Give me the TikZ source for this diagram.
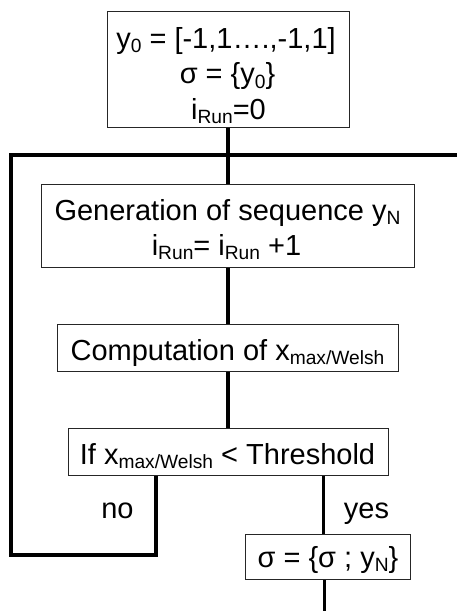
\documentclass[tikz,border=0pt]{standalone}
\usepackage{fontspec}
\setmainfont{Liberation Sans}
% lowered, smaller text for indices
\newcommand\lowsub[1]{\raisebox{-4.5pt}{\fontsize{19.2}{19.2}\selectfont #1}}
\begin{document}
\begin{tikzpicture}[x=1pt,y=-1pt,
  box/.style={draw=black!85,line width=1pt,fill=white,inner sep=0pt},
  txt/.style={anchor=base,inner sep=0pt,font=\fontsize{29}{35}\selectfont},
  flow/.style={line width=3.5pt,line join=miter,line cap=butt}]
\useasboundingbox (0,0) rectangle (457,611);

% loop and flow corner points
\coordinate (nob)  at (156,555);
\coordinate (lbot) at (11,555);
\coordinate (ltop) at (11,155);
\coordinate (rend) at (457,155);
\coordinate (yesx) at (323.5,0);
\coordinate (outx) at (324.5,0);
\coordinate (exit) at (324.5,611);
\coordinate (nox)  at (156,0);

% connectors first, boxes drawn on top
\draw[flow] (228,127) -- (228,185);
\draw[flow] (228,267) -- (228,325);
\draw[flow] (228,372) -- (228,428);
\draw[flow] (156,475) -- (nob) -- (lbot) -- (ltop) -- (rend);
\draw[flow] (323.5,475) -- (323.5,534);
\draw[flow] (324.5,579) -- (exit);

% boxes
\node[box,minimum width=242pt,minimum height=116pt] (b1) at (228,69) {};
\node[box,minimum width=373.4pt,minimum height=82.3pt] (b2) at (228,226) {};
\node[box,minimum width=340.7pt,minimum height=46.7pt] (b3) at (227.7,348.3) {};
\node[box,minimum width=319.7pt,minimum height=47pt] (b4) at (228.2,451.5) {};
\node[box,minimum width=165pt,minimum height=45pt] (b5) at (327.5,556.5) {};

% box texts
\node[txt] (t1a) at (226,48) {y\lowsub{0} = [-1,1….,-1,1]};
\node[txt] (t1b) at (227.5,83.5) {σ = \{y\lowsub{0}\}};
\node[txt] (t1c) at (228.5,119) {i\lowsub{Run}=0};
\node[txt] (t2a) at (227.5,220) {Generation of sequence y\lowsub{N}};
\node[txt] (t2b) at (226.5,255) {i\lowsub{Run}= i\lowsub{Run} +1};
\node[txt] (t3) at (227.5,360) {Computation of x\lowsub{max/Welsh}};
\node[txt] (t4) at (227.5,464) {If x\lowsub{max/Welsh} < Threshold};
\node[txt] (t5) at (328,567) {σ = \{σ ; y\lowsub{N}\}};

% branch labels
\node[txt] (no)  at (117.5,518) {no};
\node[txt] (yes) at (366.5,518) {yes};
\end{tikzpicture}
\end{document}
